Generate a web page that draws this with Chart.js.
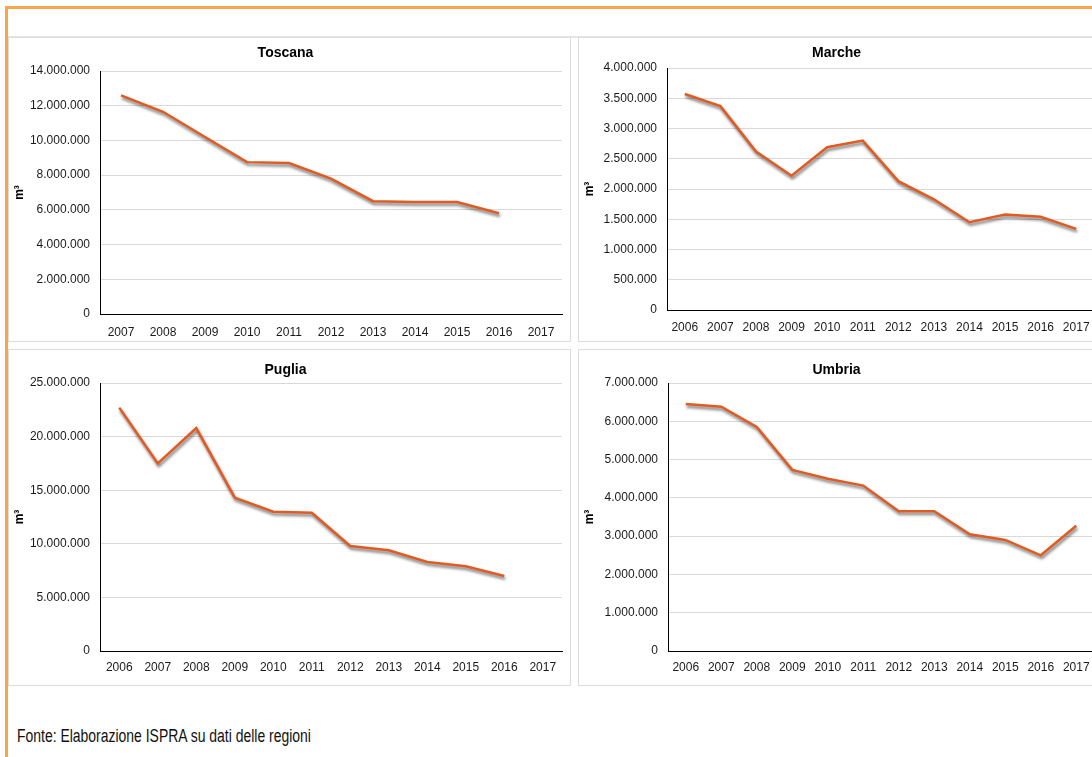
<!DOCTYPE html>
<html>
<head>
<meta charset="utf-8">
<script src="https://cdn.jsdelivr.net/npm/chart.js@4"></script>
<style>
html,body{margin:0;padding:0;background:#fff;width:1092px;height:757px;overflow:hidden;font-family:"Liberation Sans",Arial,sans-serif}
#frame{position:absolute;left:5px;top:6px;width:1200px;height:800px;border-left:3px solid #f9a54c;border-top:3px solid #f9a54c}
.panel{position:absolute;border:1px solid #dcdcdc;background:#fff;box-sizing:border-box}
.panel canvas{display:block}
#src{position:absolute;left:17px;top:726px;font-family:"Liberation Sans",Arial,sans-serif;font-size:18px;color:#111;white-space:nowrap;transform:scaleX(0.775);transform-origin:0 0}
#topline{position:absolute;left:8px;top:36px;width:1100px;height:2px;background:#e6e6e6}
</style>
</head>
<body>
<div id="frame"></div>
<div id="topline"></div>
<div class="panel" style="left:8px;top:37px;width:563px;height:305px"><canvas id="c1"></canvas></div>
<div class="panel" style="left:578px;top:37px;width:530px;height:305px"><canvas id="c2"></canvas></div>
<div class="panel" style="left:8px;top:349px;width:563px;height:337px"><canvas id="c3"></canvas></div>
<div class="panel" style="left:578px;top:349px;width:530px;height:337px"><canvas id="c4"></canvas></div>
<div id="src">Fonte: Elaborazione ISPRA su dati delle regioni</div>
<script>
// anni
const years07=["2007","2008","2009","2010","2011","2012","2013","2014","2015","2016","2017"];
const years06=["2006","2007","2008","2009","2010","2011","2012","2013","2014","2015","2016","2017"];

// m3 per regione
const toscana=[12600000,11650000,10200000,8750000,8700000,7800000,6500000,6450000,6450000,5800000,null];
const marche=[3570000,3370000,2620000,2220000,2690000,2800000,2130000,1830000,1450000,1580000,1540000,1340000];
const puglia=[22700000,17500000,20800000,14300000,13000000,12900000,9800000,9400000,8300000,7900000,7000000,null];
const umbria=[6450000,6380000,5850000,4730000,4500000,4320000,3650000,3650000,3050000,2900000,2500000,3270000];

// assi
const yMax=[14000000,4000000,25000000,7000000];
const yStep=[2000000,500000,5000000,1000000];

const fmt=v=>String(v).replace(/\B(?=(\d{3})+(?!\d))/g,".");

const shadow={id:"shadow",
  beforeDatasetsDraw(c){const x=c.ctx;x.save();x.shadowColor="rgba(0,0,0,0.55)";x.shadowBlur=3;x.shadowOffsetX=1;x.shadowOffsetY=2.5;},
  afterDatasetsDraw(c){c.ctx.restore();}};

function make(id,title,labels,data,i,g){
  new Chart(document.getElementById(id),{
    type:"line",
    data:{labels:labels,datasets:[{data:data,borderColor:"#e35a20",borderWidth:2.5,pointRadius:0,tension:0,spanGaps:false}]},
    plugins:[shadow],
    options:{responsive:true,maintainAspectRatio:false,animation:false,
      layout:{padding:{left:0,right:g.right,top:0,bottom:0}},
      plugins:{legend:{display:false},tooltip:{enabled:false},
        title:{display:true,text:title,color:"#000",font:{family:"Liberation Sans",size:14,weight:"bold"},padding:{top:g.tt,bottom:g.top-g.tt-16.8}}},
      scales:{
        x:{offset:true,grid:{display:false},border:{display:true,color:"#000",width:1},
          ticks:{color:"#1a1a1a",font:{family:"Liberation Sans",size:12},padding:g.tp,maxRotation:0,autoSkip:false},
          afterFit(s){s.height=g.bottom;}},
        y:{min:0,max:yMax[i],grid:{color:"#d9d9d9",drawTicks:false},border:{display:true,color:"#000",width:1},
          ticks:{stepSize:yStep[i],color:"#1a1a1a",font:{family:"Liberation Sans",size:12},padding:10,callback:v=>fmt(v)},
          title:{display:true,text:"m³",color:"#000",font:{family:"Liberation Sans",size:12,weight:"bold"},padding:{top:3,bottom:0}},
          afterFit(s){s.width=g.left;}}
      }}
  });
}

make("c1","Toscana",years07,toscana,0,{left:91,right:8,top:33,tt:7,bottom:27,tp:3});
make("c2","Marche",years06,marche,1,{left:88,right:13,top:30,tt:7,bottom:31,tp:2});
make("c3","Puglia",years06,puglia,2,{left:91,right:8,top:33,tt:12,bottom:34,tp:1});
make("c4","Umbria",years06,umbria,3,{left:89,right:13,top:33,tt:12,bottom:34,tp:1});
</script>
</body>
</html>
